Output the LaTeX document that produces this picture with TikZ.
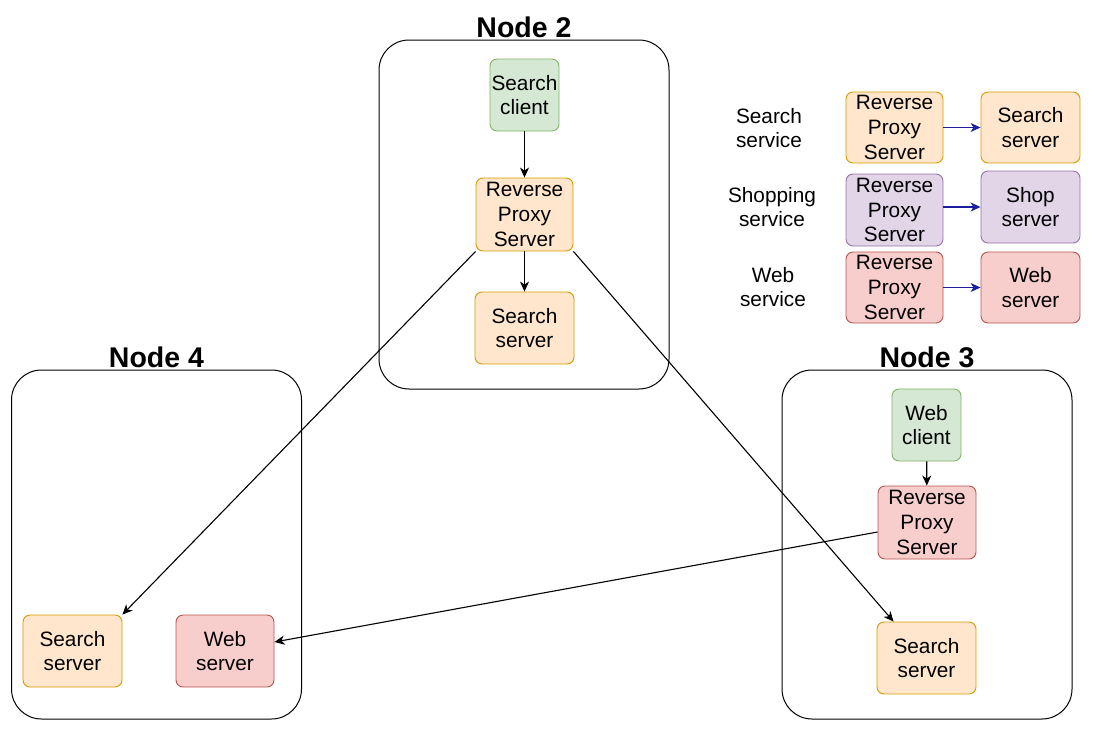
\documentclass[tikz,border=0pt]{standalone}
\usepackage{fontspec}
\setmainfont{Liberation Sans}
\usetikzlibrary{arrows.meta,calc}

\definecolor{orangefill}{HTML}{FFE6CC}
\definecolor{orangeline}{HTML}{D79B00}
\definecolor{greenfill}{HTML}{D5E8D4}
\definecolor{greenline}{HTML}{82B366}
\definecolor{purplefill}{HTML}{E1D5E7}
\definecolor{purpleline}{HTML}{9673A6}
\definecolor{redfill}{HTML}{F8CECC}
\definecolor{redline}{HTML}{B85450}
\definecolor{legendblue}{RGB}{30,30,160}

\begin{document}
\begin{tikzpicture}[x=1pt,y=-1pt,
  every node/.style={font=\fontsize{20.8}{24.8}\selectfont, align=center, inner sep=0pt},
  svc/.style={draw, rounded corners=7pt, line width=0.9pt},
  sz/.style 2 args={minimum width=#1, minimum height=#2},
  orangebox/.style={svc, fill=orangefill, draw=orangeline},
  greenbox/.style={svc, fill=greenfill, draw=greenline},
  purplebox/.style={svc, fill=purplefill, draw=purpleline},
  redbox/.style={svc, fill=redfill, draw=redline},
  machine/.style={draw=black, line width=1pt, rounded corners=30pt, minimum width=290pt, minimum height=349pt},
  machinetitle/.style={anchor=base, font=\fontsize{28.5}{30}\bfseries\selectfont},
  link/.style={line width=1.1pt, -{Stealth[length=10pt,width=9pt,inset=3pt]}},
  legendlink/.style={link, draw=legendblue, -{Stealth[length=10pt,width=9pt,inset=3pt,fill=legendblue]}}
]
\useasboundingbox (0,0) rectangle (1097,731);

% machines
\node[machine] (n2) at (524,214.5) {};
\node[machine] (n4) at (156.5,544.5) {};
\node[machine] (n3) at (927,544.5) {};
\node[machinetitle] (t2) at ([yshift=2pt]n2.north) {Node 2};
\node[machinetitle] (t4) at ([yshift=2pt]n4.north) {Node 4};
\node[machinetitle] (t3) at ([yshift=2pt]n3.north) {Node 3};

% Node 2
\node[greenbox, sz={69pt}{72pt}] (n2c) at (524.5,95) {Search\\client};
\node[orangebox, sz={97pt}{73pt}] (n2rp) at (524.5,214.5) {Reverse\\Proxy\\Server};
\node[orangebox, sz={99pt}{72pt}] (n2ss) at (524.5,328) {Search\\server};

% Node 4
\node[orangebox, sz={99pt}{72pt}] (n4ss) at (72.5,651) {Search\\server};
\node[redbox, sz={98pt}{72pt}] (n4ws) at (225,651) {Web\\server};

% Node 3
\node[greenbox, sz={69pt}{72pt}] (n3c) at (926.5,425) {Web\\client};
\node[redbox, sz={98pt}{73pt}] (n3rp) at (927,522.5) {Reverse\\Proxy\\Server};
\node[orangebox, sz={99pt}{72pt}] (n3ss) at (926.5,658) {Search\\server};

% legend
\node (l1) at (769,128) {Search\\service};
\node (l2) at (772,207) {Shopping\\service};
\node (l3) at (773,287) {Web\\service};
\node[orangebox, sz={97pt}{71pt}] (lrp1) at (894.5,127.5) {Reverse\\Proxy\\Server};
\node[orangebox, sz={99pt}{71pt}] (ls1) at (1030.5,127.5) {Search\\server};
\node[purplebox, sz={97pt}{72pt}] (lrp2) at (894.5,210) {Reverse\\Proxy\\Server};
\node[purplebox, sz={99pt}{72pt}] (ls2) at (1030.5,207) {Shop\\server};
\node[redbox, sz={97pt}{71pt}] (lrp3) at (894.5,287.5) {Reverse\\Proxy\\Server};
\node[redbox, sz={99pt}{71pt}] (ls3) at (1030.5,287.5) {Web\\server};

\draw[legendlink] (lrp1.east) -- (ls1.west |- lrp1.east);
\draw[legendlink] ([yshift=3pt]lrp2.east) -- (ls2.west);
\draw[legendlink] (lrp3.east) -- (ls3.west);

% connections
\draw[link] (n2c) -- (n2rp);
\draw[link] (n2rp) -- (n2ss);
\draw[link] (n3c) -- (n3rp);
\draw[link] (n2rp.south west) -- (n4ss.north east);
\draw[link] (n2rp.south east) -- ($(n3ss.north west)!0.17!(n3ss.north east)$);
\draw[link] ([yshift=-9.5pt]n3rp.west) -- ([yshift=9pt]n4ws.east);
\end{tikzpicture}
\end{document}
